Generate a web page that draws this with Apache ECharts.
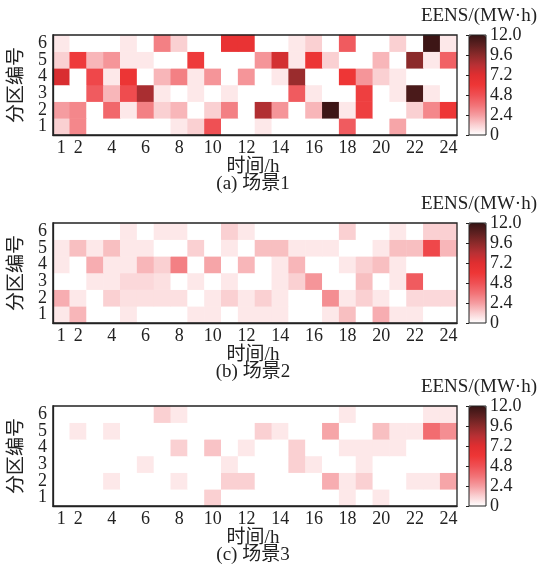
<!DOCTYPE html>
<html>
<head>
<meta charset="utf-8">
<script src="https://cdn.jsdelivr.net/npm/echarts@6/dist/echarts.min.js"></script>
<style>
  html, body { margin: 0; padding: 0; background: #fff; }
  #main { width: 537px; height: 573px; }
</style>
</head>
<body>
<div id="main"></div>
<script>
const hours = ['1','2','3','4','5','6','7','8','9','10','11','12','13','14','15','16','17','18','19','20','21','22','23','24'];
const zones = ['1','2','3','4','5','6'];
const panelNames = ['(a) 场景1', '(b) 场景2', '(c) 场景3'];

// EENS per zone (rows: zone 1 .. zone 6), 24 hours each
const scene1 = [
  [1.2,3.0,0,0,0,0,0,0.6,1.2,4.8,0,0,0.6,0,0,0,0,4.4,0,0,2.2,0,0,0],
  [2.4,3.0,0,4.0,0.6,3.2,1.2,1.8,0,1.2,3.2,0,8.6,2.6,0,1.8,11.8,0.6,5.6,0,0,1.2,3.0,6.0],
  [0,0,4.4,1.8,5.0,8.8,0.6,0,0.6,0,0.6,0,0,0,4.4,0.6,0,0,5.6,0,0.6,11.4,0.6,0],
  [7.4,0,5.2,0.6,6.2,0,1.8,3.2,0.6,2.6,0,2.6,0,0.6,9.2,0,0,6.0,2.6,1.2,0.6,0,0,0],
  [1.2,5.8,1.8,2.6,0.6,0.6,0,0,5.8,0,0,0,2.6,7.6,0.6,6.2,1.2,0,0,1.8,0,9.6,0.6,4.2],
  [0.6,0,0,0,0.6,0,3.2,1.2,0,0,6.4,6.4,0,0,0.6,1.2,0,4.4,0,0,1.2,0,11.8,0.6]
];
const scene2 = [
  [0.6,1.8,0,0,0.6,0,0,0,0.6,0.6,0,0.6,0.6,0.6,0,0,0.6,1.6,0,2.0,0.6,0.6,0,0],
  [2.0,0.6,0,1.2,0.8,0.8,0.8,0.8,0,0.6,1.2,0.6,1.2,0.6,0,0,2.8,0.6,1.2,0.6,0,1.0,1.0,1.0],
  [0,0,0.6,0.6,1.0,1.0,0.8,0,0.6,0,0.6,0,0,0.6,1.2,2.6,0,0,1.6,0,0.6,4.4,0,0],
  [0.6,0,2.0,0.6,0.6,1.8,1.2,3.2,0,2.2,0,1.8,0,0.6,1.8,0,0,0.6,1.2,1.6,0.6,0,0,0],
  [0.6,1.6,0.6,1.6,0.6,0.6,0,0,1.2,0,0.6,0,1.6,1.6,0.6,0.6,0.6,0,0,0.6,1.6,1.6,5.2,1.8],
  [0,0,0,0,0.6,0,0.6,0.6,0,0,1.2,0.6,0,0,0,0,0,1.2,0,0,0.6,0,1.2,1.2]
];
const scene3 = [
  [0,0,0,0,0,0,0,0,0,1.2,0,0,0,0,0,0,0,0.6,0,0.6,0,0,0,0],
  [0,0,0,0.6,0,0,0,0.6,0,0,1.2,1.2,0,0,0,0,2.0,0.6,1.2,0,0,0.6,0.6,2.2],
  [0,0,0,0,0,0.6,0,0,0,0,0.6,0,0,0,1.2,0.6,0,0,0.6,0,0,0,0,0],
  [0,0,0,0,0,0,0,1.2,0,1.5,0,0.6,0,0,1.2,0,0,0.6,0.6,0.6,0.6,0,0,0],
  [0,0.6,0,0.6,0,0,0,0,0,0,0,0,1.2,0.6,0,0,2.2,0,0,1.6,0.6,0.6,3.8,2.8],
  [0,0,0,0,0,0,1.2,0.6,0,0,0,0,0,0,0,0,0,0.6,0,0,0,0,0.6,0.6]
];
const scenes = [scene1, scene2, scene3];

const colorStops = ['#ffffff','#fad0d2','#f59ca0','#f27276','#ef5054','#ee3636',
                    '#e02e30','#b83034','#8b2a2a','#5e2020','#361414'];
const eensMin = 0, eensMax = 12, eensStep = 2.4;

const FONT = '"Liberation Serif", "Times New Roman", "Noto Sans CJK SC", serif';
const INK = '#222';

let chart = echarts.init(document.getElementById('main'));

const plotLeft = 49, plotWidth = 408, plotHeight = 100;
const tops = [35, 223, 406];
const cbLeft = 469, cbWidth = 17;

let grid = [], xAxis = [], yAxis = [], series = [], visualMap = [], title = [];

function showTick(i) { return i === 0 || i % 2 === 1; }

function label(text, opts) {
  return Object.assign({
    text: text, padding: 0,
    textStyle: { fontFamily: FONT, fontSize: 19, fontWeight: 'normal', color: INK }
  }, opts);
}

tops.forEach((top, k) => {
  grid.push({ left: plotLeft, top: top, width: plotWidth, height: plotHeight,
              show: true, borderColor: INK, borderWidth: 1.3, z: 10 });
  grid.push({ left: cbLeft, top: top, width: cbWidth, height: plotHeight,
              show: true, borderColor: INK, borderWidth: 1, z: 10 });
  let g = k * 2;

  xAxis.push({
    type: 'category', gridIndex: g, data: hours, z: 10,
    axisLine: { lineStyle: { color: INK, width: 1.3 } },
    axisTick: { inside: true, length: 4, alignWithLabel: true, interval: showTick,
                lineStyle: { color: INK } },
    axisLabel: { interval: showTick, margin: 4, fontFamily: FONT, fontSize: 18, color: INK },
    splitLine: { show: false }
  });
  yAxis.push({
    type: 'category', gridIndex: g, data: zones, z: 10,
    name: '分区编号', nameLocation: 'middle', nameGap: 21,
    nameTextStyle: { fontFamily: FONT, fontSize: 19, color: INK },
    axisLine: { lineStyle: { color: INK, width: 1.3 } },
    axisTick: { inside: true, length: 4, alignWithLabel: true, lineStyle: { color: INK } },
    axisLabel: { interval: 0, margin: 6, fontFamily: FONT, fontSize: 18, color: INK },
    splitLine: { show: false }
  });

  // colorbar scale
  xAxis.push({ type: 'value', gridIndex: g + 1, show: false });
  yAxis.push({
    type: 'value', gridIndex: g + 1, position: 'right', z: 10,
    min: eensMin, max: eensMax, interval: eensStep,
    axisLine: { show: false },
    axisTick: { show: true, inside: true, length: 3, lineStyle: { color: INK } },
    axisLabel: { margin: 4, fontFamily: FONT, fontSize: 18, color: INK,
                 formatter: v => v === 0 ? '0' : v.toFixed(1) },
    splitLine: { show: false }
  });

  let data = [];
  scenes[k].forEach((row, z) => row.forEach((v, h) => data.push([h, z, v])));
  series.push({
    type: 'heatmap', xAxisIndex: g, yAxisIndex: g, data: data,
    itemStyle: { borderWidth: 0 }, emphasis: { disabled: true }
  });

  visualMap.push({
    type: 'continuous', seriesIndex: k, min: eensMin, max: eensMax,
    calculable: false, hoverLink: false, padding: 0,
    left: cbLeft, top: top, itemWidth: cbWidth, itemHeight: plotHeight,
    text: null, inRange: { color: colorStops }
  });

  let mid = plotLeft + plotWidth / 2;
  title.push(label('EENS/(MW·h)', { right: 0, top: top - 28 }));
  title.push(label('时间/h', { left: mid, textAlign: 'center', top: top + plotHeight + 23 }));
  title.push(label(panelNames[k], { left: mid, textAlign: 'center', top: top + plotHeight + 40 }));
});

chart.setOption({
  animation: false,
  backgroundColor: '#fff',
  title: title,
  grid: grid,
  xAxis: xAxis,
  yAxis: yAxis,
  visualMap: visualMap,
  series: series
});
</script>
</body>
</html>
